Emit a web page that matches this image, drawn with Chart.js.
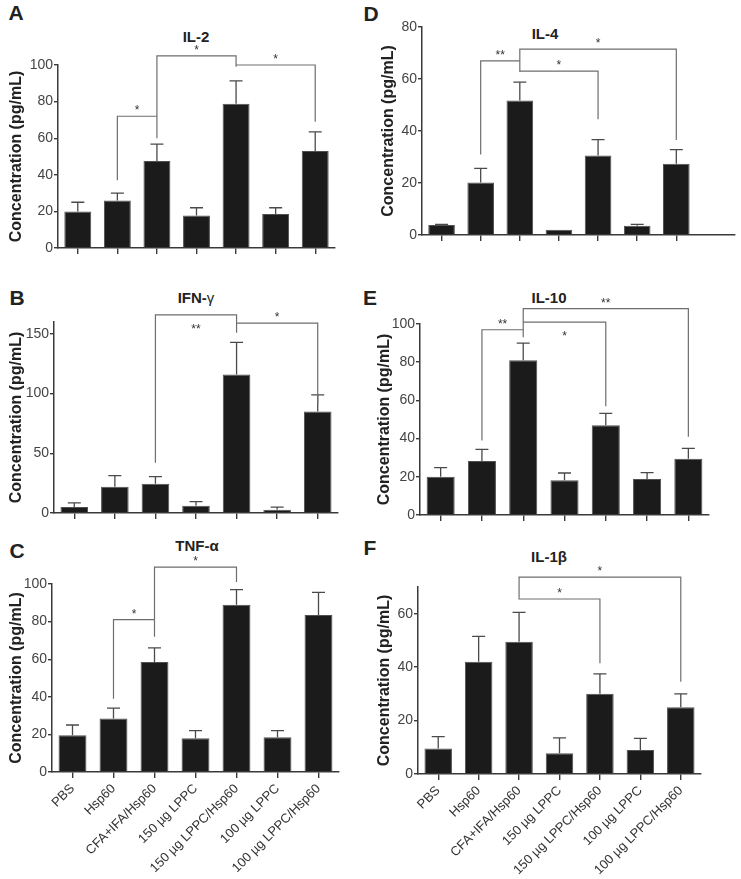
<!DOCTYPE html>
<html>
<head>
<meta charset="utf-8">
<script src="https://cdn.jsdelivr.net/npm/chart.js@4.4.0/dist/chart.umd.min.js"></script>
<style>
  body { margin: 0; background: #fff; width: 741px; height: 879px; position: relative; overflow: hidden;
         font-family: "Liberation Sans", Arial, sans-serif; }
  canvas { position: absolute; }
  .letter { position: absolute; font-weight: bold; font-size: 21px; line-height: 1; color: #222; transform: translate(-50%, -50%); }
  .ptitle { position: absolute; font-weight: bold; font-size: 15px; line-height: 1; color: #222; transform: translate(-50%, -50%); white-space: nowrap; }
  .ptitle .g { font-weight: normal; }
</style>
</head>
<body>
<div class="letter" style="left:16px;top:12px">A</div>
<div class="letter" style="left:17px;top:297px">B</div>
<div class="letter" style="left:17px;top:550px">C</div>
<div class="letter" style="left:371px;top:13px">D</div>
<div class="letter" style="left:370px;top:297px">E</div>
<div class="letter" style="left:370px;top:547px">F</div>

<div class="ptitle" style="left:196px;top:36px">IL-2</div>
<div class="ptitle" style="left:196px;top:297px">IFN-<span class="g">γ</span></div>
<div class="ptitle" style="left:197px;top:545px">TNF-α</div>
<div class="ptitle" style="left:545px;top:33px">IL-4</div>
<div class="ptitle" style="left:549px;top:297px">IL-10</div>
<div class="ptitle" style="left:549px;top:556px">IL-1β</div>

<canvas id="il2"></canvas>
<canvas id="ifn"></canvas>
<canvas id="tnf"></canvas>
<canvas id="il4"></canvas>
<canvas id="il10"></canvas>
<canvas id="il1b"></canvas>

<script>
const groups = ["PBS", "Hsp60", "CFA+IFA/Hsp60", "150 µg LPPC", "150 µg LPPC/Hsp60", "100 µg LPPC", "100 µg LPPC/Hsp60"];

// mean values and upper error (SEM) per group
const il2Mean = [20, 26, 47.5, 17.8, 78.8, 18.6, 53];
const il2Err = [5, 4, 9.3, 4.2, 12.5, 3.4, 10.5];
const ifnMean = [5, 22, 24.4, 6, 116, 2.8, 85];
const ifnErr = [3.4, 9.3, 6, 3.5, 27, 2.2, 14];
const tnfMean = [19.5, 28.5, 58.5, 18, 89, 18.5, 83.5];
const tnfErr = [5.5, 5.5, 7.5, 4, 8, 3.5, 12];
const il4Mean = [3.8, 20.2, 51.7, 2, 30.6, 3.6, 27.4];
const il4Err = [0.3, 5.4, 7.1, 0, 6.1, 0.5, 5.4];
const il10Mean = [20, 28.3, 81, 18.2, 47, 18.8, 29.5];
const il10Err = [4.8, 6.1, 9, 3.8, 6.2, 3.4, 5.4];
const il1bMean = [9.5, 42, 49.5, 7.8, 30, 9, 25];
const il1bErr = [4.5, 9.5, 11, 5.7, 7.5, 4.3, 5];

// y tick labels
const il2Ticks = [0, 20, 40, 60, 80, 100];
const ifnTicks = [0, 50, 100, 150];
const tnfTicks = [0, 20, 40, 60, 80, 100];
const il4Ticks = [0, 20, 40, 60, 80];
const il10Ticks = [0, 20, 40, 60, 80, 100];
const il1bTicks = [0, 20, 40, 60];

// significance brackets: [from, to, level, fromEnd, toEnd, label, starBelow]
const il2Sig = [[1, 2, 72, 37, 72, "*"], [2, 4, 105, 60, 99, "*"], [4, 6, 100, 100, 69, "*"]];
const ifnSig = [[2, 4, 166, 42, 151, "**", true], [4, 6, 159, 159, 91, "*"]];
const tnfSig = [[1, 2, 81, 39, 81, "*"], [2, 4, 109, 72, 101, "*"]];
const il4Sig = [[1, 2, 67, 31, 67, "**"], [2, 4, 63, 63, 44.5, "*"], [2, 6, 71.5, 62.7, 36.5, "*"]];
const il10Sig = [[1, 2, 97, 39, 97, "**"], [2, 4, 101, 101, 57, "*", true], [2, 6, 108, 93, 41, "**"]];
const il1bSig = [[2, 4, 65.5, 66, 41.5, "*"], [2, 6, 73.7, 66, 34.5, "*"]];

Chart.defaults.font.family = '"Liberation Sans", Arial, sans-serif';
const axisCol = "#3a3a3a";

const errSig = {
  id: "errSig",
  afterDatasetsDraw(chart, args, opts) {
    const ctx = chart.ctx;
    const y = chart.scales.y;
    const vals = chart.data.datasets[0].data;
    const bars = chart.getDatasetMeta(0).data;
    ctx.save();
    ctx.strokeStyle = "#4a4a4a";
    ctx.lineWidth = 1.3;
    opts.err.forEach((e, i) => {
      if (!e) return;
      const x = bars[i].x;
      const y0 = y.getPixelForValue(vals[i]);
      const y1 = y.getPixelForValue(vals[i] + e);
      ctx.beginPath();
      ctx.moveTo(x, y0); ctx.lineTo(x, y1);
      ctx.moveTo(x - 6.5, y1); ctx.lineTo(x + 6.5, y1);
      ctx.stroke();
    });
    ctx.strokeStyle = "#6e6e6e";
    ctx.lineWidth = 1.2;
    ctx.fillStyle = "#333";
    ctx.font = '12px "Liberation Sans", Arial, sans-serif';
    ctx.textAlign = "center";
    opts.sig.forEach(([a, b, lv, ea, eb, txt, below]) => {
      const xa = bars[a].x, xb = bars[b].x, yl = y.getPixelForValue(lv);
      ctx.beginPath();
      ctx.moveTo(xa, y.getPixelForValue(ea));
      ctx.lineTo(xa, yl);
      ctx.lineTo(xb, yl);
      ctx.lineTo(xb, y.getPixelForValue(eb));
      ctx.stroke();
      ctx.fillText(txt, (xa + xb) / 2, below ? yl + 18 : yl - 2);
    });
    ctx.restore();
  }
};

function makePanel(id, p) {
  const cv = document.getElementById(id);
  const [bx, by, bw, bh] = p.box;
  const [l, t, r, b] = p.area;
  cv.width = bw; cv.height = bh;
  cv.style.left = bx + "px"; cv.style.top = by + "px";
  const n = p.mean.length;
  return new Chart(cv, {
    type: "bar",
    data: {
      labels: p.labels,
      datasets: [{
        data: p.mean,
        backgroundColor: "#1b1b1b",
        borderColor: "#505050",
        borderWidth: 1,
        barPercentage: 0.68,
        categoryPercentage: 1
      }]
    },
    options: {
      responsive: false,
      animation: false,
      layout: { padding: { top: t - by, right: bx + bw - r, left: 0, bottom: 0 } },
      plugins: {
        legend: { display: false },
        tooltip: { enabled: false },
        errSig: { err: p.err, sig: p.sig }
      },
      scales: {
        x: {
          grid: {
            drawOnChartArea: false, offset: false, tickLength: 6, lineWidth: 1.4,
            color: axisCol,
            tickColor: (c) => (c.index < n ? axisCol : "rgba(0,0,0,0)")
          },
          border: { color: axisCol, width: 1.5 },
          ticks: {
            display: p.showLabels, autoSkip: false, maxRotation: 45, minRotation: 45,
            font: { size: 13 }, color: "#333", padding: 3
          },
          afterFit: (s) => { s.height = by + bh - b; }
        },
        y: {
          min: 0,
          max: p.max,
          grid: { drawOnChartArea: false, tickLength: 4, lineWidth: 1.4, color: axisCol },
          border: { color: axisCol, width: 1.5 },
          ticks: { font: { size: 14 }, color: "#444", padding: 1 },
          afterBuildTicks: (s) => { s.ticks = p.ticks.map((v) => ({ value: v })); },
          title: {
            display: true, text: "Concentration (pg/mL)", color: "#222",
            font: { size: 16, weight: "bold" }, padding: { top: p.tpad, bottom: 0 }
          },
          afterFit: (s) => { s.width = l - bx; }
        }
      }
    },
    plugins: [errSig]
  });
}

makePanel("il2", { box: [0, 0, 350, 270], area: [58, 65, 335, 248], labels: groups, mean: il2Mean, err: il2Err, ticks: il2Ticks, max: 100, sig: il2Sig, showLabels: false, tpad: 7 });
makePanel("ifn", { box: [0, 280, 350, 250], area: [54, 322, 338, 513], labels: groups, mean: ifnMean, err: ifnErr, ticks: ifnTicks, max: 160, sig: ifnSig, showLabels: false, tpad: 7 });
makePanel("tnf", { box: [0, 530, 350, 349], area: [52, 584, 339, 772], labels: groups, mean: tnfMean, err: tnfErr, ticks: tnfTicks, max: 100, sig: tnfSig, showLabels: true, tpad: 7 });
makePanel("il4", { box: [370, 0, 371, 270], area: [422, 27, 735, 235], labels: groups.concat([""]), mean: il4Mean, err: il4Err, ticks: il4Ticks, max: 80, sig: il4Sig, showLabels: false, tpad: 9 });
makePanel("il10", { box: [370, 280, 371, 250], area: [420, 324, 709, 515], labels: groups, mean: il10Mean, err: il10Err, ticks: il10Ticks, max: 100, sig: il10Sig, showLabels: false, tpad: 5 });
makePanel("il1b", { box: [370, 530, 371, 349], area: [418, 587, 701, 774], labels: groups, mean: il1bMean, err: il1bErr, ticks: il1bTicks, max: 70, sig: il1bSig, showLabels: true, tpad: 5 });
</script>
</body>
</html>
